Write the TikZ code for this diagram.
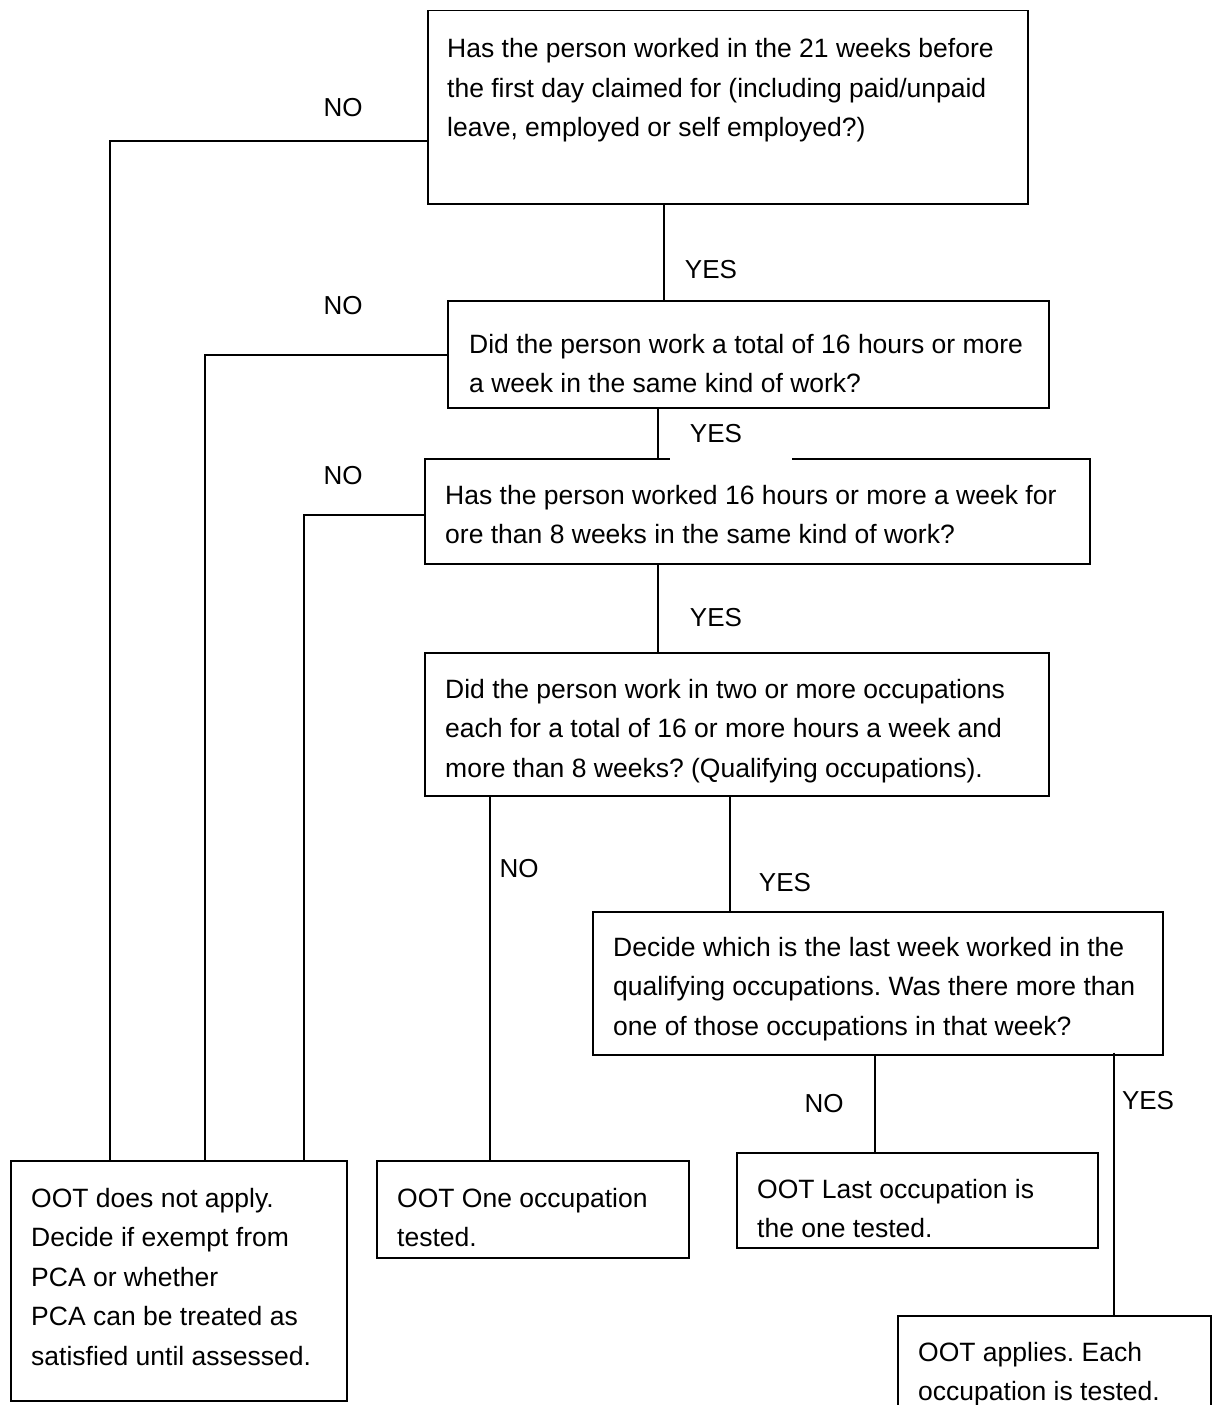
\documentclass[tikz,border=0pt]{standalone}
\usepackage{fontspec}
\setmainfont{Liberation Sans}
\usetikzlibrary{calc}
\frenchspacing
\begin{document}
\begin{tikzpicture}[x=1pt,y=-1pt,
  box/.style={draw=black,line width=1.5pt,rectangle,inner sep=0pt,anchor=north west},
  txt/.style={anchor=north west,inner sep=0pt,align=left,font=\fontsize{26.5}{39.5}\selectfont},
  lbl/.style={inner sep=0pt,font=\fontsize{26}{28}\selectfont},
  conn/.style={line width=1.5pt,black}]
\useasboundingbox (0,0) rectangle (1213,1405);
\clip (0,0) rectangle (1213,1405);
\fill[white] (0,0) rectangle (1213,1405);

% boxes
\node[box,minimum width=600,minimum height=193] (b1) at (427,10) {};
\node[box,minimum width=601,minimum height=107] (b2) at (447,300) {};
\node[box,minimum width=665,minimum height=105] (b3) at (424,458) {};
\node[box,minimum width=624,minimum height=143] (b4) at (424,652) {};
\node[box,minimum width=570,minimum height=143] (b5) at (592,911) {};
\node[box,minimum width=336,minimum height=240] (b6) at (10,1160) {};
\node[box,minimum width=312,minimum height=97] (b7) at (376,1160) {};
\node[box,minimum width=361,minimum height=95] (b8) at (736,1152) {};
\node[box,minimum width=313,minimum height=130] (b9) at (897,1315) {};

% texts
\node[txt] (t1) at (447,38.5) {Has the person worked in the 21 weeks before\\the first day claimed for (including paid/unpaid\\leave, employed or self employed?)};
\node[txt] (t2) at (469,334) {Did the person work a total of 16 hours or more\\a week in the same kind of work?};
\node[txt] (t3) at (445,485) {Has the person worked 16 hours or more a week for\\ore than 8 weeks in the same kind of work?};
\node[txt] (t4) at (445,679) {Did the person work in two or more occupations\\each for a total of 16 or more hours a week and\\more than 8 weeks? (Qualifying occupations).};
\node[txt] (t5) at (613,937) {Decide which is the last week worked in the\\qualifying occupations. Was there more than\\one of those occupations in that week?};
\node[txt] (t6) at (31,1188) {OOT does not apply.\\Decide if exempt from\\PCA or whether\\PCA can be treated as\\satisfied until assessed.};
\node[txt] (t7) at (397,1188) {OOT One occupation\\tested.};
\node[txt] (t8) at (757,1179) {OOT Last occupation is\\the one tested.};
\node[txt] (t9) at (918,1342) {OOT applies. Each\\occupation is tested.};

% bend and start coordinates
\coordinate (k1) at (110,141);
\coordinate (k2) at (205,355);
\coordinate (k3) at (304,515);
\coordinate (s1) at ($(b1.south west)+(237,0)$);
\coordinate (s2) at ($(b2.south west)+(211,0)$);
\coordinate (s3) at ($(b3.south west)+(234,0)$);
\coordinate (s4) at ($(b4.south west)+(66,0)$);
\coordinate (s5) at ($(b4.south west)+(306,0)$);
\coordinate (s6) at ($(b5.south west)+(283,0)$);
\coordinate (s7) at ($(b5.south west)+(522,-3)$);

% NO branches to the left
\draw[conn] (b1.west |- k1) -- (k1) -- (k1 |- b6.north);
\draw[conn] (b2.west |- k2) -- (k2) -- (k2 |- b6.north);
\draw[conn] (b3.west |- k3) -- (k3) -- (k3 |- b6.north);

% vertical connectors
\draw[conn] (s1) -- (s1 |- b2.north);
\draw[conn] (s2) -- (s2 |- b3.north);
\draw[conn] (s3) -- (s3 |- b4.north);
\draw[conn] (s4) -- (s4 |- b7.north);
\draw[conn] (s5) -- (s5 |- b5.north);
\draw[conn] (s6) -- (s6 |- b8.north);
\draw[conn] (s7) -- (s7 |- b9.north);

% labels
\node[lbl] (n1) at (343,108) {NO};
\node[lbl] (y1) at (711,270) {YES};
\node[lbl] (n2) at (343,306) {NO};
\node[lbl,fill=white,minimum width=122,minimum height=51] (y2) at (731,434.5) {};
\node[lbl] (y2t) at (716,434) {YES};
\node[lbl] (n3) at (343,476) {NO};
\node[lbl] (y3) at (716,618) {YES};
\node[lbl] (n4) at (519,869) {NO};
\node[lbl] (y4) at (785,883) {YES};
\node[lbl] (n5) at (824,1104) {NO};
\node[lbl] (y5) at (1148,1101) {YES};
\end{tikzpicture}
\end{document}
